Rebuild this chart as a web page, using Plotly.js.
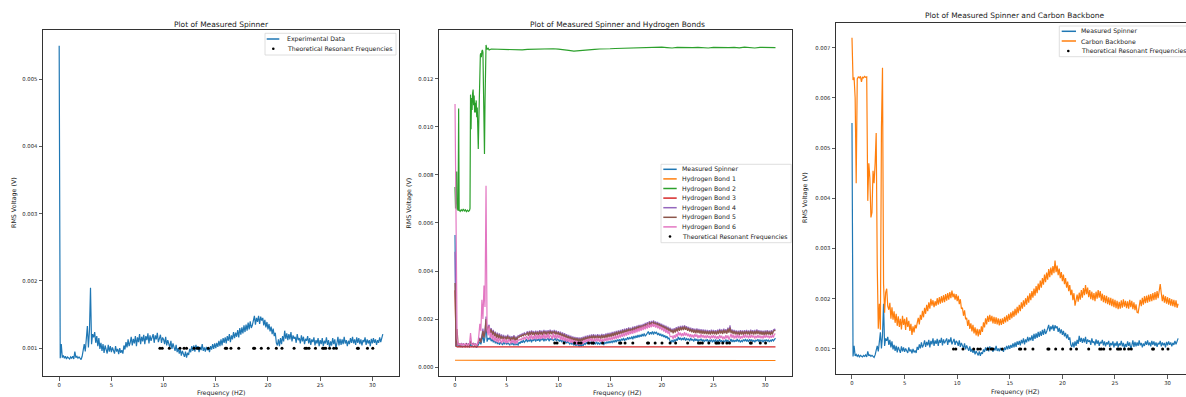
<!DOCTYPE html>
<html><head><meta charset="utf-8">
<script src="https://cdn.plot.ly/plotly-3.0.1.min.js"></script>
<style>html,body{margin:0;padding:0;background:#fff;overflow:hidden}#chart{width:1186px;height:397px}</style>
</head><body><div id="chart"></div>
<script>
// ---------------- DATA (voltages stored in units of 1e-5 V) ----------------
const freq = Array.from({length: 311}, (_, i) => i / 10); // 0.0 .. 31.0 Hz sampling grid

const spinner_e5 = [
550,85,106,86,89,85,88,84,87,86,
84,87,85,88,84,95,86,88,85,87,
85,83,88,99,106,95,114,133,101,126,
190,106,121,116,124,108,118,103,115,99,
108,96,106,93,104,97,92,105,95,103,
94,101,97,92,103,95,99,91,100,93,
97,92,104,98,109,101,113,103,108,117,
104,114,107,118,103,116,109,121,106,117,
110,120,106,118,112,122,107,119,111,116,
121,108,119,113,123,109,117,120,108,116,
113,106,117,104,112,108,101,111,99,107,
102,96,105,94,100,92,98,89,96,90,
87,95,86,93,90,99,94,103,96,104,
95,105,98,103,94,102,97,106,96,101,
95,102,97,100,94,103,98,106,99,107,
100,108,102,111,103,113,104,115,108,116,
107,118,111,121,109,119,113,124,115,123,
117,127,116,130,120,131,122,134,124,135,
126,138,128,140,130,134,142,148,135,145,
139,148,136,147,141,145,134,142,131,139,
128,136,125,132,121,129,118,123,108,104,
113,103,115,106,118,110,126,114,122,112,
121,113,124,110,119,114,117,108,121,112,
115,107,119,110,117,106,114,111,118,107,
115,105,113,109,116,104,112,107,115,103,
112,106,115,103,111,107,116,105,112,101,
110,104,115,106,113,100,107,117,104,114,
105,113,106,117,107,112,103,111,106,115,
108,117,107,113,105,116,108,115,106,113,
104,112,109,116,105,113,107,112,103,114,
107,115,108,113,105,112,108,116,109,118,
121];

const carbon_e5 = [
720,636,641,600,430,638,642,640,643,632,
642,640,643,641,642,395,470,440,362,372,
455,430,470,530,265,140,190,138,540,660,
230,172,212,220,185,178,192,160,183,158,
175,152,170,146,165,144,160,139,166,148,
160,138,163,144,156,136,150,128,145,133,
148,141,152,162,149,168,158,176,163,182,
170,188,175,193,180,200,186,197,183,195,
186,201,188,203,190,205,192,207,193,209,
196,211,198,213,201,216,203,210,198,209,
195,206,189,199,180,182,166,177,159,162,
146,158,140,151,135,148,131,143,127,140,
125,139,128,145,134,153,143,161,149,166,
154,168,155,166,151,164,150,163,149,161,
147,160,148,161,150,164,153,167,155,170,
158,173,161,176,164,180,167,184,171,188,
175,193,180,197,184,201,188,206,192,211,
197,215,202,220,206,225,211,230,217,236,
222,241,228,248,233,252,238,259,243,262,
247,265,251,276,253,266,247,260,241,253,
235,248,229,241,222,234,215,227,207,218,
197,211,186,201,208,194,212,198,217,202,
221,207,227,209,222,203,217,199,214,197,
211,195,214,200,217,202,215,196,210,193,
207,191,206,189,203,187,202,185,200,183,
198,181,196,179,194,180,197,182,199,184,
196,181,195,180,198,183,196,179,193,177,
189,173,172,185,198,185,202,188,205,191,
206,192,208,194,209,195,211,197,213,198,
215,201,217,229,211,195,208,192,205,190,
203,188,201,186,199,185,198,183,197,182,
190];

const hb4_e5 = [
480,88,100,94,97,92,98,93,97,94,
92,98,93,97,91,105,98,94,99,93,
97,92,98,112,122,106,142,160,128,152,
210,148,168,176,147,162,138,155,133,148,
126,143,124,140,121,136,118,134,117,131,
120,135,116,130,114,129,118,133,113,128,
117,131,129,135,132,139,135,143,138,141,
149,135,151,138,153,139,150,136,152,138,
151,137,154,139,152,136,155,140,153,138,
154,140,156,142,153,139,155,141,152,137,
150,136,147,132,144,129,141,125,137,122,
134,119,131,116,128,114,126,112,125,111,
123,110,124,112,127,114,130,117,132,120,
134,121,136,123,137,124,135,122,137,125,
135,123,138,125,137,126,140,127,142,130,
143,131,146,133,148,135,151,138,153,141,
155,142,158,144,160,147,162,149,165,152,
164,151,168,154,170,157,173,160,176,163,
177,164,180,167,184,170,187,173,191,177,
192,179,194,181,190,177,188,174,184,170,
180,166,176,162,172,158,168,154,164,150,
160,146,162,149,166,153,169,156,171,158,
172,159,174,160,170,156,167,153,164,150,
162,148,160,146,161,147,159,145,158,144,
157,143,156,142,155,141,154,140,156,142,
155,141,154,140,156,143,159,145,157,143,
160,146,158,144,164,148,174,146,157,143,
155,141,153,139,152,138,154,140,153,139,
154,140,155,141,153,139,156,142,154,140,
155,141,157,143,154,140,153,139,152,138,
153,139,154,140,152,138,154,140,155,158,
156];

const hb5_e5 = [
350,86,158,91,95,90,96,91,95,92,
90,96,91,95,89,110,96,92,97,91,
95,90,96,108,118,102,137,150,123,147,
200,143,163,170,142,157,132,150,128,143,
121,138,119,135,116,130,113,128,112,126,
115,130,111,125,109,124,113,128,108,123,
112,126,124,130,127,134,130,138,133,136,
144,130,146,133,148,134,145,131,147,133,
146,132,149,134,147,131,150,135,148,133,
149,135,151,137,148,134,150,136,147,132,
145,131,142,127,139,124,136,120,132,117,
129,114,126,111,123,109,121,107,120,106,
118,105,119,107,122,109,125,112,127,115,
129,116,131,118,132,119,130,117,132,120,
130,118,133,120,132,121,135,122,137,125,
138,126,141,128,143,130,146,133,148,136,
150,137,153,139,155,142,157,144,160,147,
159,146,163,149,165,152,168,155,171,158,
172,159,175,162,179,165,182,168,186,172,
187,174,189,176,185,172,183,169,179,165,
175,161,171,157,167,153,163,149,159,145,
155,141,157,144,161,148,164,151,166,153,
167,154,169,155,165,151,162,148,159,145,
157,143,155,141,156,142,154,140,153,139,
152,138,151,137,150,136,149,135,151,137,
150,136,149,135,151,138,154,140,152,138,
155,141,153,139,159,143,164,141,152,138,
150,136,148,134,147,133,149,135,148,134,
149,135,150,136,148,134,151,137,149,135,
150,136,152,138,149,135,148,134,147,133,
148,134,149,135,147,133,149,135,150,153,
151];

const hb6_e5 = [
1095,640,120,92,96,92,97,91,96,92,
97,91,95,91,97,142,99,93,97,92,
96,91,98,130,180,150,280,200,340,250,
755,160,132,172,121,143,114,135,108,127,
104,123,101,121,106,99,118,103,119,99,
113,100,117,102,98,115,100,113,96,111,
99,113,112,117,113,121,116,126,114,129,
124,113,133,116,135,114,130,117,137,115,
133,118,137,116,133,119,139,117,134,120,
140,118,133,130,116,141,121,134,117,136,
121,133,114,130,111,127,108,124,105,121,
104,118,101,115,99,112,96,110,94,108,
92,107,93,109,97,113,102,116,104,118,
106,120,107,119,104,118,106,121,107,119,
105,118,104,117,106,120,108,122,110,124,
112,125,114,128,116,131,118,133,120,136,
123,139,126,142,128,145,131,148,134,151,
137,153,139,156,142,159,145,162,148,165,
151,168,154,171,157,174,160,181,163,178,
166,183,168,180,165,177,161,173,157,169,
153,165,148,161,143,156,139,151,128,126,
129,118,133,122,138,126,147,132,143,128,
141,129,145,131,142,128,139,125,137,124,
135,122,138,126,136,121,133,122,137,123,
134,121,132,120,133,122,130,118,132,121,
133,120,131,117,129,118,134,121,131,116,
128,117,133,120,132,114,127,138,122,135,
119,132,120,136,121,133,118,130,120,134,
122,136,123,132,120,134,122,135,123,132,
119,131,121,134,122,132,120,131,119,133,
122,134,123,132,120,131,122,134,123,137,
138];

const hb1Freq = [0, 10, 20, 31];
const hb1_e5  = [28.5, 28, 28, 27.5];

const hb3Freq = [0, 0.1, 0.2, 10, 20, 23.4, 23.5, 23.6, 31];
const hb3_e5  = [320, 88, 84, 84, 84, 84, 86, 84, 84];

const hb2Freq = [0,0.05,0.1,0.16,0.2,0.25,0.3,0.35,0.4,0.5,0.6,0.7,0.8,0.9,1.0,1.1,1.2,1.3,1.4,1.45,
  1.5,1.55,1.6,1.65,1.7,1.75,1.8,1.85,1.9,1.95,2.0,2.05,2.1,2.15,2.2,2.25,2.3,2.35,2.4,2.45,
  2.5,2.55,2.6,2.65,2.7,2.75,2.8,2.85,2.9,2.95,3.0,3.05,3.1,3.2,3.3,3.5,
  4,4.5,5,5.5,6,6.5,7,7.5,8,8.5,9,9.5,10,10.5,11,11.5,12,12.5,13,13.5,14,14.5,15,15.5,
  16,16.5,17,17.5,18,18.5,19,19.5,20,20.5,21,21.5,22,22.5,23,23.5,24,24.5,25,25.5,
  26,26.5,27,27.5,28,28.5,29,29.5,30,30.5,31];
const hb2_e5 = [750,660,700,814,655,690,650,1076,655,648,655,650,658,650,655,647,653,648,652,660,
  1134,990,1120,1070,1140,1155,1090,1130,1060,1100,1060,1110,1040,1080,1000,908,1020,1180,1260,1300,
  1306,1290,1315,1320,1310,1200,990,887,1100,1300,1341,1330,1322,1327,1320,1324,
  1323,1321,1322,1320,1321,1320,1322,1323,1322,1324,1323,1325,1323,1322,1318,1315,1316,1319,1321,1322,1324,1323,1325,1326,
  1327,1328,1329,1330,1331,1330,1332,1331,1332,1330,1328,1331,1330,1328,1330,1331,1330,1328,1331,1330,
  1328,1330,1331,1329,1332,1330,1328,1331,1330,1331,1330];

const resonantFreqs = [9.65,9.87,10.55,11.57,11.96,12.2,12.92,13.23,13.39,14.28,15.92,16.04,16.45,17.2,
  18.62,18.72,19.36,20.02,20.8,21.34,22.5,23.55,23.71,23.93,24.55,25.24,25.37,25.53,25.9,26.3,26.55,
  28.57,28.66,29.53,30.04];
const resonantLevelV = 0.001;

const titles = ['Plot of Measured Spinner', 'Plot of Measured Spinner and Hydrogen Bonds', 'Plot of Measured Spinner and Carbon Backbone'];
const xLabel = 'Frequency (HZ)';
const yLabel = 'RMS Voltage (V)';
const xTicks = [0, 5, 10, 15, 20, 25, 30];
const yTicks1 = [0.001, 0.002, 0.003, 0.004, 0.005];
const yTicks2 = [0, 0.002, 0.004, 0.006, 0.008, 0.010, 0.012];
const yTicks3 = [0.001, 0.002, 0.003, 0.004, 0.005, 0.006, 0.007];
const legend1 = ['Experimental Data', 'Theoretical Resonant Frequencies'];
const legend2 = ['Measured Spinner', 'Hydrogen Bond 1', 'Hydrogen Bond 2', 'Hydrogen Bond 3', 'Hydrogen Bond 4', 'Hydrogen Bond 5', 'Hydrogen Bond 6', 'Theoretical Resonant Frequencies'];
const legend3 = ['Measured Spinner', 'Carbon Backbone', 'Theoretical Resonant Frequencies'];

// ---------------- STYLE ----------------
const C = {blue:'#1f77b4', orange:'#ff7f0e', green:'#2ca02c', red:'#d62728', purple:'#9467bd', brown:'#8c564b', pink:'#e377c2', black:'#000000'};
const FONT = 'DejaVu Sans, Verdana, sans-serif';
const W = 1186, H = 397;
const px = v => v / W, py = v => 1 - v / H;
const V = a => a.map(v => v * 1e-5);
const LW = 1.2;

function line(x, y, color, xa, ya) {
  return {type:'scatter', mode:'lines', x, y: V(y), xaxis:xa, yaxis:ya, line:{color, width:LW}, showlegend:false, hoverinfo:'skip'};
}
function dots(xa, ya) {
  return {type:'scatter', mode:'markers', x: resonantFreqs, y: resonantFreqs.map(() => resonantLevelV), xaxis:xa, yaxis:ya,
    marker:{color:C.black, size:3}, showlegend:false, hoverinfo:'skip'};
}

const traces = [
  line(freq, spinner_e5, C.blue, 'x', 'y'),
  dots('x', 'y'),
  line(freq, spinner_e5, C.blue, 'x2', 'y2'),
  line(hb1Freq, hb1_e5, C.orange, 'x2', 'y2'),
  line(hb2Freq, hb2_e5, C.green, 'x2', 'y2'),
  line(hb3Freq, hb3_e5, C.red, 'x2', 'y2'),
  line(freq, hb4_e5, C.purple, 'x2', 'y2'),
  line(freq, hb5_e5, C.brown, 'x2', 'y2'),
  line(freq, hb6_e5, C.pink, 'x2', 'y2'),
  dots('x2', 'y2'),
  line(freq, spinner_e5, C.blue, 'x3', 'y3'),
  line(freq, carbon_e5, C.orange, 'x3', 'y3'),
  dots('x3', 'y3'),
];

const tickFont = {family: FONT, size: 5.3, color: '#262626'};
function xAx(d0, d1, range, anchor) {
  return {domain:[px(d0), px(d1)], range, anchor, tickvals:xTicks, ticks:'outside', ticklen:3.5, tickwidth:0.8, tickcolor:'#333',
    showline:true, mirror:true, linecolor:'#333', linewidth:1, showgrid:false, zeroline:false, tickfont:tickFont, fixedrange:true};
}
function yAx(top, bottom, range, vals, anchor, mirror) {
  return {domain:[py(bottom), py(top)], range, anchor, tickvals:vals, tickformat:'.3f', ticks:'outside', ticklen:3.5, tickwidth:0.8, tickcolor:'#333',
    showline:true, mirror, linecolor:'#333', linewidth:1, showgrid:false, zeroline:false, tickfont:tickFont, fixedrange:true};
}

const annotations = [];
const shapes = [];
function text(t, x, y, size, opts = {}) {
  annotations.push(Object.assign({text:t, xref:'paper', yref:'paper', x:px(x), y:py(y), showarrow:false,
    xanchor:'center', yanchor:'middle', font:{family:FONT, size, color:'#1a1a1a'}, borderpad:0}, opts));
}
// titles & axis labels
text(titles[0], 221, 24, 7.5);
text(titles[1], 617, 24, 7.5);
text(titles[2], 1015, 15.7, 7.5);
[221, 617].forEach(x => text(xLabel, x, 393.3, 6.3));
text(xLabel, 1015, 391.7, 6.3);
text(yLabel, 14, 203, 6.3, {textangle:-90});
text(yLabel, 408.5, 203, 6.3, {textangle:-90});
text(yLabel, 805, 198, 6.3, {textangle:-90});

// manual legends (matplotlib style)
function legend(box, rowY, lineX, dotX, textX, labels, colors) {
  shapes.push({type:'rect', xref:'paper', yref:'paper', x0:px(box[0]), x1:px(box[2]), y0:py(box[3]), y1:py(box[1]),
    fillcolor:'rgba(255,255,255,0.85)', line:{color:'#d6d6d6', width:0.8}});
  labels.forEach((lab, i) => {
    const y = rowY[i];
    if (colors[i] === 'dot') {
      shapes.push({type:'circle', xref:'paper', yref:'paper', x0:px(dotX-1.3), x1:px(dotX+1.3), y0:py(y+1.3), y1:py(y-1.3),
        fillcolor:'#000', line:{width:0}});
    } else {
      shapes.push({type:'line', xref:'paper', yref:'paper', x0:px(lineX[0]), x1:px(lineX[1]), y0:py(y), y1:py(y),
        line:{color:colors[i], width:1.5}});
    }
    text(lab, textX, y, 6.2, {xanchor:'left'});
  });
}
legend([265, 33.3, 396, 55], [39, 48.7], [266.7, 279.3], 273.3, 285.7, legend1, [C.blue, 'dot']);
legend([661, 164.3, 791.2, 242.7], legend2.map((_, i) => 169.3 + 9.6 * i), [663.3, 676.7], 670, 681.3, legend2,
  [C.blue, C.orange, C.green, C.red, C.purple, C.brown, C.pink, 'dot']);
legend([1059.3, 26, 1192, 56.7], [31.3, 41, 51], [1061.7, 1076], 1068.3, 1080.3, legend3, [C.blue, C.orange, 'dot']);

const layout = {
  width: W, height: H, autosize:false, margin:{l:0, r:0, t:0, b:0, pad:0},
  paper_bgcolor:'#fff', plot_bgcolor:'#fff', showlegend:false,
  font:{family:FONT},
  xaxis:  xAx(43, 399, [-1.55, 32.55], 'y'),
  yaxis:  yAx(30, 376, [0.000586, 0.005734], yTicks1, 'x', true),
  xaxis2: xAx(439, 791.5, [-1.55, 32.55], 'y2'),
  yaxis2: yAx(30, 376, [-0.00037, 0.01403], yTicks2, 'x2', true),
  xaxis3: xAx(836, 1186, [-1.52, 31.75], 'y3'),
  yaxis3: yAx(22.7, 374, [0.0005, 0.0075], yTicks3, 'x3', false),
  annotations, shapes,
};

Plotly.newPlot('chart', traces, layout, {staticPlot:true, displayModeBar:false});
</script></body></html>
